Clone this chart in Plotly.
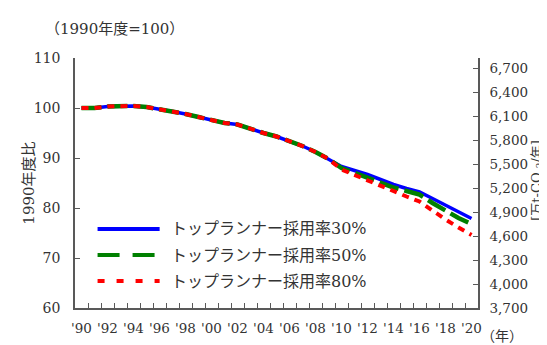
import plotly.graph_objects as go

years = list(range(1990, 2021))
common = [100.0, 100.0, 100.3, 100.4, 100.4, 100.2, 99.8, 99.3, 98.8, 98.2,
          97.6, 97.0, 96.7, 95.8, 95.0, 94.3, 93.4, 92.4, 91.2, 89.8]
rate30 = common + [88.3, 87.5, 86.7, 85.7, 84.7, 83.9, 83.2, 81.9, 80.6, 79.2, 77.9]
rate50 = common + [88.0, 87.0, 86.1, 85.1, 84.1, 83.4, 82.7, 81.0, 79.4, 78.0, 76.8]
rate80 = common + [87.7, 86.6, 85.4, 84.4, 83.3, 82.3, 81.3, 79.4, 77.7, 76.1, 74.6]

series_names = ["トップランナー採用率30%", "トップランナー採用率50%", "トップランナー採用率80%"]
colors = ["#0000FF", "#008000", "#FF0000"]

x_tick_vals = list(range(1990, 2021, 2))
x_tick_text = ["'" + str(y)[2:] for y in x_tick_vals]
left_ticks = [60, 70, 80, 90, 100, 110]
right_ticks = [3700, 4000, 4300, 4600, 4900, 5200, 5500, 5800, 6100, 6400, 6700]

FONT = "DejaVu Serif, Noto Sans CJK JP"
TXT = "#333333"
AX = "#595959"

fig = go.Figure()
fig.add_trace(go.Scatter(x=years, y=rate30, mode="lines", name=series_names[0],
                         line=dict(color=colors[0], width=3.5), showlegend=False))
fig.add_trace(go.Scatter(x=years, y=rate50, mode="lines", name=series_names[1],
                         line=dict(color=colors[1], width=4.5, dash="20px,6px"), showlegend=False))
fig.add_trace(go.Scatter(x=years, y=rate80, mode="lines", name=series_names[2],
                         line=dict(color=colors[2], width=4, dash="7px,6px"), showlegend=False))
# invisible trace to activate the secondary axis
fig.add_trace(go.Scatter(x=[years[0]], y=[right_ticks[0]], yaxis="y2", mode="markers",
                         marker=dict(opacity=0), showlegend=False, hoverinfo="skip"))

fig.update_layout(
    width=547, height=345,
    margin=dict(l=67, r=77, t=50, b=45),
    paper_bgcolor="white", plot_bgcolor="white",
    font=dict(family=FONT, size=14, color=TXT),
    xaxis=dict(range=[1989.5, 2020.5], tickvals=x_tick_vals, ticktext=x_tick_text,
               ticks="", showgrid=False, zeroline=False, showline=True,
               linecolor=AX, linewidth=1.5, ticklabelstandoff=7,
               tickfont=dict(family=FONT, size=13.5, color=TXT),
               minor=dict(tickvals=[y + 0.5 for y in years[:-1]], ticks="inside",
                          ticklen=5, tickcolor=AX, tickwidth=1, showgrid=False)),
    yaxis=dict(range=[60, 110], tickvals=left_ticks, ticks="inside", ticklen=5,
               tickcolor=AX, showgrid=False, zeroline=False, showline=True,
               linecolor=AX, linewidth=1.5, ticklabelstandoff=10,
               tickfont=dict(family=FONT, size=14, color=TXT)),
    yaxis2=dict(range=[3700, 6825], tickvals=right_ticks, tickformat=",",
                overlaying="y", side="right", ticks="inside", ticklen=5,
                tickcolor=AX, showgrid=False, zeroline=False, showline=True,
                linecolor=AX, linewidth=1.5, ticklabelstandoff=7,
                tickfont=dict(family=FONT, size=13.5, color=TXT)),
)

annotations = [
    dict(text="（1990年度=100）", x=-0.08, y=1.115, xref="paper", yref="paper",
         xanchor="left", yanchor="middle", showarrow=False, font=dict(family=FONT, size=15)),
    dict(text="1990年度比", x=-0.115, y=0.5, xref="paper", yref="paper",
         xanchor="center", yanchor="middle", textangle=-90, showarrow=False, font=dict(family=FONT, size=15)),
    dict(text="[万t-CO <sub>2</sub>/年]", x=1.147, y=0.51, xref="paper", yref="paper",
         xanchor="center", yanchor="middle", textangle=-90, showarrow=False, font=dict(family=FONT, size=13)),
    dict(text="（年）", x=1.06, y=-0.11, xref="paper", yref="paper",
         xanchor="center", yanchor="middle", showarrow=False, font=dict(family=FONT, size=14)),
]

# manual legend
legend_y = [0.316, 0.212, 0.108]
legend_dash = ["solid", "22px,13px", "7px,12px"]
shapes = []
for i in range(3):
    shapes.append(dict(type="line", xref="paper", yref="paper",
                       x0=0.056, x1=0.21, y0=legend_y[i], y1=legend_y[i],
                       line=dict(color=colors[i], width=4, dash=legend_dash[i])))
    annotations.append(dict(text=series_names[i], x=0.233, y=legend_y[i], xref="paper", yref="paper",
                            xanchor="left", yanchor="middle", showarrow=False,
                            font=dict(family=FONT, size=16)))

fig.update_layout(annotations=annotations, shapes=shapes)
fig.write_html("out.html")
